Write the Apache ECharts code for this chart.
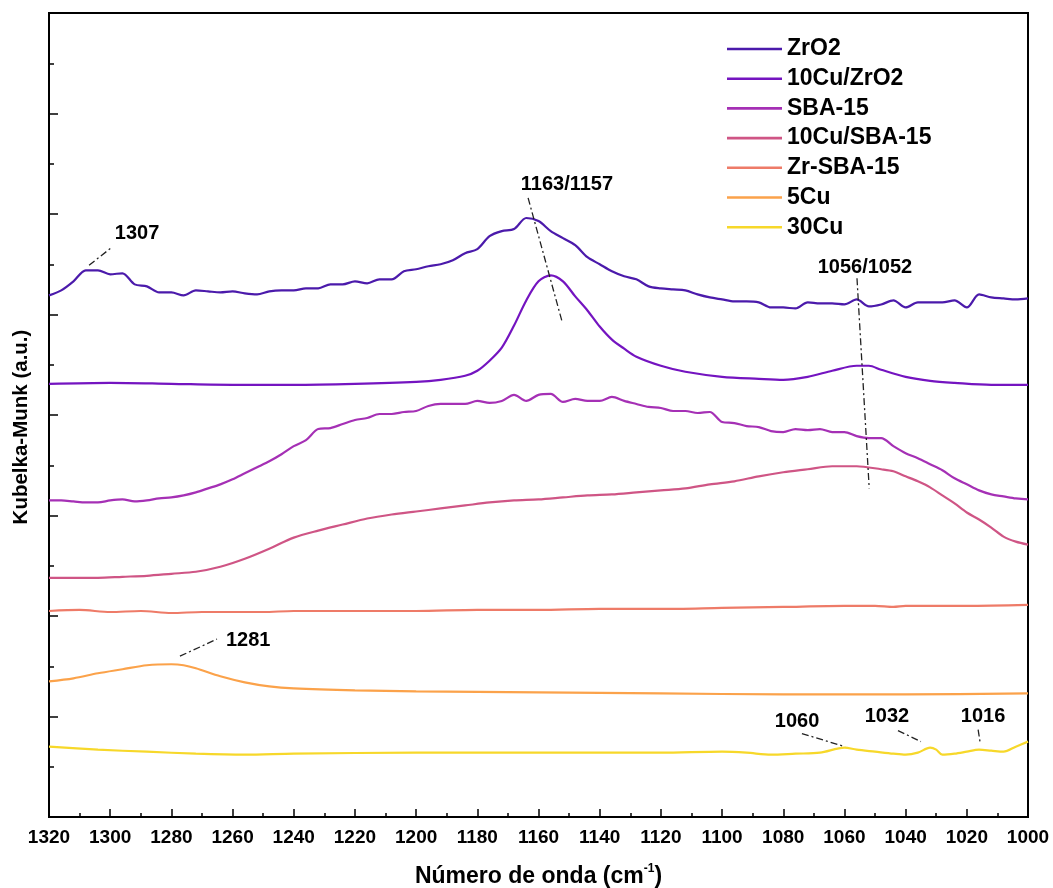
<!DOCTYPE html>
<html>
<head>
<meta charset="utf-8">
<script src="https://cdn.jsdelivr.net/npm/echarts@6/dist/echarts.min.js"></script>
<style>
  html, body { margin: 0; padding: 0; background: #ffffff; }
  #chart { width: 1053px; height: 888px; }
</style>
</head>
<body>
<div id="chart"></div>
<script>
// DRIFTS spectra, Kubelka-Munk units (curves offset for clarity)

// wavenumber grid (cm-1) for the finely sampled spectra
const wnFine = [1320,1316,1312,1308,1304,1300,1296,1292,1288,1284,1280,1276,1272,1268,1264,1260,1256,1252,1248,1244,
  1240,1236,1232,1228,1224,1220,1216,1212,1208,1204,1200,1196,1192,1188,1184,1180,1176,1172,1168,1164,
  1160,1156,1152,1148,1144,1140,1136,1132,1128,1124,1120,1116,1112,1108,1104,1100,1096,1092,1088,1084,
  1080,1076,1072,1068,1064,1060,1056,1052,1048,1044,1040,1036,1032,1028,1024,1020,1016,1012,1008,1004,1000];

const zro2 = [5.19,5.24,5.33,5.44,5.44,5.40,5.41,5.30,5.28,5.22,5.22,5.19,5.24,5.23,5.22,5.23,5.21,5.20,5.23,5.24,
  5.24,5.26,5.26,5.30,5.30,5.33,5.31,5.35,5.35,5.43,5.45,5.48,5.50,5.54,5.61,5.65,5.78,5.83,5.85,5.96,
  5.93,5.83,5.76,5.69,5.57,5.50,5.43,5.38,5.35,5.28,5.26,5.25,5.24,5.20,5.17,5.15,5.13,5.13,5.12,5.07,
  5.07,5.06,5.12,5.11,5.11,5.10,5.15,5.08,5.10,5.14,5.07,5.12,5.12,5.12,5.14,5.07,5.20,5.17,5.16,5.15,5.16];

const sba15 = [3.15,3.15,3.14,3.13,3.13,3.15,3.16,3.14,3.15,3.17,3.18,3.20,3.23,3.27,3.31,3.36,3.42,3.48,3.54,3.61,
  3.69,3.75,3.86,3.87,3.91,3.95,3.97,4.01,4.01,4.03,4.04,4.09,4.11,4.11,4.11,4.14,4.12,4.14,4.20,4.14,
  4.20,4.21,4.13,4.16,4.14,4.14,4.18,4.14,4.11,4.08,4.07,4.04,4.04,4.02,4.03,3.93,3.92,3.89,3.88,3.84,
  3.83,3.86,3.85,3.86,3.83,3.83,3.79,3.77,3.77,3.69,3.62,3.57,3.51,3.45,3.37,3.31,3.25,3.21,3.19,3.17,3.16];

const wnCuZr = [1320,1300,1280,1260,1240,1220,1200,1192,1184,1180,1176,1172,1168,1164,1160,1156,1152,1148,1144,1140,
  1136,1132,1128,1120,1112,1100,1088,1080,1072,1064,1056,1052,1048,1040,1032,1024,1012,1000];
const cuZro2 = [4.31,4.32,4.31,4.30,4.30,4.31,4.33,4.35,4.39,4.44,4.54,4.67,4.89,5.14,5.33,5.39,5.33,5.18,5.04,4.88,
  4.75,4.66,4.58,4.49,4.43,4.38,4.36,4.35,4.38,4.44,4.49,4.49,4.45,4.38,4.34,4.32,4.30,4.30];

const wnCuSba = [1320,1312,1304,1296,1288,1280,1272,1264,1256,1248,1240,1232,1224,1216,1208,1200,1192,1184,1176,1168,
  1160,1152,1144,1136,1128,1120,1112,1104,1096,1088,1080,1072,1064,1056,1048,1044,1040,1036,1032,1028,
  1024,1020,1016,1012,1008,1004,1000];
const cuSba15 = [2.38,2.38,2.38,2.39,2.40,2.42,2.44,2.49,2.57,2.67,2.78,2.85,2.91,2.97,3.01,3.04,3.07,3.10,3.13,3.15,
  3.16,3.18,3.20,3.21,3.23,3.25,3.27,3.31,3.34,3.39,3.43,3.46,3.49,3.49,3.46,3.44,3.39,3.34,3.28,3.20,
  3.12,3.03,2.96,2.88,2.79,2.74,2.71];

const wnZrSba = [1320,1310,1300,1290,1280,1270,1260,1250,1240,1220,1200,1180,1160,1140,1120,1100,1080,1060,1050,1044,1040,1020,1000];
const zrSba15 = [2.05,2.06,2.04,2.05,2.03,2.04,2.04,2.04,2.05,2.05,2.05,2.06,2.06,2.07,2.07,2.08,2.09,2.10,2.10,2.09,2.10,2.10,2.11];

const wn5Cu = [1320,1312,1304,1296,1288,1280,1276,1272,1264,1256,1248,1240,1220,1200,1160,1120,1080,1040,1000];
const cu5 = [1.35,1.38,1.43,1.47,1.51,1.52,1.51,1.48,1.40,1.34,1.30,1.28,1.26,1.25,1.24,1.23,1.22,1.22,1.23];

const wn30Cu = [1320,1304,1288,1272,1256,1240,1200,1160,1120,1100,1092,1084,1076,1068,1060,1056,1050,1044,1040,1036,
  1032,1030,1028,1024,1020,1016,1012,1008,1004,1000];
const cu30 = [0.70,0.67,0.65,0.63,0.62,0.63,0.64,0.64,0.64,0.65,0.64,0.62,0.63,0.64,0.69,0.67,0.65,0.63,0.62,0.64,
  0.69,0.67,0.62,0.63,0.65,0.67,0.66,0.65,0.70,0.75];

// band assignments: label text, label anchor, guide line ends
const bandText  = ['1307', '1163/1157', '1056/1052', '1281', '1060', '1032', '1016'];
const bandTextX = [1291.2, 1150.7, 1053.3, 1254.9, 1075.5, 1046.1, 1014.7];
const bandTextY = [5.81, 6.29, 5.47, 1.76, 0.95, 1.00, 1.00];
const guideFrom = [[1306.9, 5.49], [1163.4, 6.16], [1055.9, 5.36], [1277.2, 1.60], [1073.9, 0.83], [1042.5, 0.86], [1016.3, 0.87]];
const guideTo   = [[1299.4, 5.67], [1152.3, 4.93], [1051.9, 3.27], [1265.1, 1.77], [1059.8, 0.70], [1035.0, 0.75], [1015.7, 0.75]];

const xTicks = { min: 1000, max: 1320, step: 20 };

const spectra = [
  { name: 'ZrO2',        x: wnFine,  y: zro2,    color: '#4b1aab' },
  { name: '10Cu/ZrO2',   x: wnCuZr,  y: cuZro2,  color: '#7414c0' },
  { name: 'SBA-15',      x: wnFine,  y: sba15,   color: '#a530b5' },
  { name: '10Cu/SBA-15', x: wnCuSba, y: cuSba15, color: '#cf5585' },
  { name: 'Zr-SBA-15',   x: wnZrSba, y: zrSba15, color: '#ee7b68' },
  { name: '5Cu',         x: wn5Cu,   y: cu5,     color: '#fba24a' },
  { name: '30Cu',        x: wn30Cu,  y: cu30,    color: '#f7d82a' }
];

const FONT = '"Liberation Sans", Arial, Helvetica, sans-serif';

const series = spectra.map(s => ({
  name: s.name,
  type: 'line',
  data: s.x.map((w, i) => [w, s.y[i]]),
  symbol: 'none',
  smooth: 0.3,
  lineStyle: { color: s.color, width: 2.2 },
  itemStyle: { color: s.color },
  silent: true,
  z: 3
}));

guideFrom.forEach((p, i) => {
  series.push({
    name: 'guide' + i,
    type: 'line',
    data: [p, guideTo[i]],
    symbol: 'none',
    lineStyle: { color: '#222', width: 1.3, type: [7, 3, 2, 3] },
    silent: true,
    z: 4
  });
});

series.push({
  name: 'bands',
  type: 'scatter',
  data: bandText.map((t, i) => ({ value: [bandTextX[i], bandTextY[i]], name: t })),
  symbolSize: 1,
  itemStyle: { color: 'rgba(0,0,0,0)' },
  label: {
    show: true,
    position: 'inside',
    formatter: p => p.name,
    color: '#000',
    textBorderWidth: 0,
    opacity: 1,
    fontFamily: FONT,
    fontWeight: 'bold',
    fontSize: 20
  },
  silent: true,
  z: 5
});

const chart = echarts.init(document.getElementById('chart'), null, { renderer: 'canvas' });
chart.setOption({
  animation: false,
  backgroundColor: '#ffffff',
  grid: {
    left: 49, right: 25, top: 13, bottom: 71,
    outerBoundsMode: 'none',
    containLabel: false,
    show: true, borderColor: '#000', borderWidth: 2, backgroundColor: 'transparent'
  },
  legend: {
    data: spectra.map(s => ({ name: s.name, icon: 'rect' })),
    orient: 'vertical',
    left: 722,
    top: 32,
    itemWidth: 55,
    itemHeight: 2.6,
    itemGap: 5.7,
    selectedMode: false,
    textStyle: { fontFamily: FONT, fontWeight: 'bold', fontSize: 23, lineHeight: 24, color: '#000' }
  },
  xAxis: {
    type: 'value',
    inverse: true,
    min: xTicks.min,
    max: xTicks.max,
    interval: xTicks.step,
    name: '{a|Número de onda (cm}{s|-1}{a|)}',
    nameLocation: 'middle',
    nameGap: 46,
    nameTextStyle: {
      rich: {
        a: { fontFamily: FONT, fontWeight: 'bold', fontSize: 23, color: '#000', lineHeight: 27 },
        s: { fontFamily: FONT, fontWeight: 'bold', fontSize: 12, color: '#000', verticalAlign: 'top', lineHeight: 27 }
      }
    },
    axisLine: { show: true, onZero: false, lineStyle: { color: '#000', width: 2 } },
    axisTick: { show: true, inside: true, length: 8, lineStyle: { color: '#000', width: 1.5 } },
    minorTick: { show: true, splitNumber: 2, length: 4, lineStyle: { color: '#000', width: 1.5 } },
    axisLabel: { margin: 11, fontFamily: FONT, fontWeight: 'bold', fontSize: 19, color: '#000', formatter: v => String(v) },
    splitLine: { show: false }
  },
  yAxis: {
    type: 'value',
    min: 0,
    max: 8,
    interval: 1,
    name: 'Kubelka-Munk (a.u.)',
    nameLocation: 'middle',
    nameGap: 17,
    nameTextStyle: { fontFamily: FONT, fontWeight: 'bold', fontSize: 20.5, color: '#000', padding: [0, 24, 0, 0] },
    axisLine: { show: true, onZero: false, lineStyle: { color: '#000', width: 2 } },
    axisTick: { show: true, inside: true, length: 9, lineStyle: { color: '#000', width: 1.5 } },
    minorTick: { show: true, splitNumber: 2, length: 5, lineStyle: { color: '#000', width: 1.5 } },
    axisLabel: { show: false },
    splitLine: { show: false }
  },
  series: series
});
</script>
</body>
</html>
